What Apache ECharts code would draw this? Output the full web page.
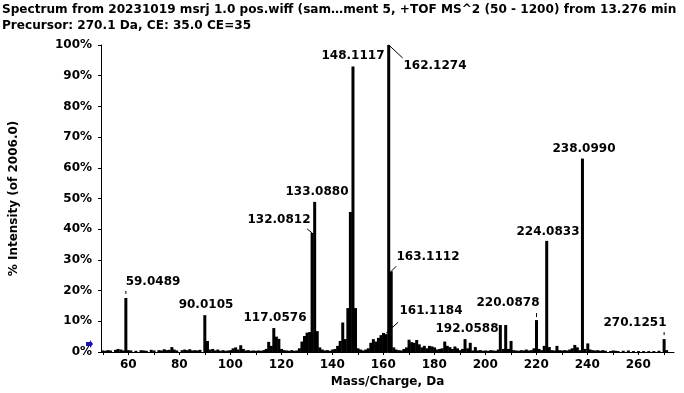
<!DOCTYPE html>
<html>
<head>
<meta charset="utf-8">
<script src="https://cdn.jsdelivr.net/npm/echarts@6/dist/echarts.min.js"></script>
<style>html,body{margin:0;padding:0;background:#fff}#c{width:684px;height:393px}</style>
</head>
<body>
<div id="c"></div>
<script>
// ---- data (m/z in Da, intensity in % of 2006.0) ----
var titleLine1 = 'Spectrum from 20231019 msrj 1.0 pos.wiff (sam\u2026ment 5, +TOF MS^2 (50 - 1200) from 13.276 min';
var titleLine2 = 'Precursor: 270.1 Da, CE: 35.0 CE=35';
var xTickValues = [50, 60, 70, 80, 90, 100, 110, 120, 130, 140, 150, 160, 170, 180, 190, 200, 210, 220, 230, 240, 250, 260, 270];
var xLabelValues = [60, 80, 100, 120, 140, 160, 180, 200, 220, 240, 260];
var yTickValues = [0, 10, 20, 30, 40, 50, 60, 70, 80, 90, 100];

var mz = [
  50.0, 51.1, 52.0, 53.0, 55.0, 56.0, 57.1, 58.1, 59.0489, 60.0, 61.0, 63.0, 65.0, 66.0, 67.1, 69.0, 70.1, 72.0, 73.0, 74.1,
  75.0, 76.1, 77.1, 78.0, 79.0, 81.1, 82.1, 83.1, 84.1, 85.1, 86.1, 87.1, 88.1, 90.0105, 91.05, 92.0, 93.1, 94.1, 95.1, 96.0,
  97.1, 98.0, 99.1, 100.1, 101.1, 102.1, 103.1, 104.1, 105.1, 106.1, 107.1, 108.1, 109.1, 110.1, 111.1, 112.1, 113.1, 114.1, 115.05, 116.1,
  117.0576, 118.06, 119.05, 120.1, 121.1, 122.1, 123.1, 124.1, 125.1, 126.1, 127.1, 128.1, 129.1, 130.1, 131.1, 132.0812, 133.0880, 134.1, 135.1, 136.1,
  137.1, 138.1, 139.1, 140.1, 141.1, 142.1, 143.1, 144.1, 145.1, 146.1, 147.1, 148.1117, 149.1, 150.1, 151.1, 152.1, 153.1, 154.1, 155.1, 156.1,
  157.1, 158.1, 159.1, 160.1, 161.1184, 162.1274, 163.1112, 164.1, 165.1, 166.1, 167.1, 168.1, 169.1, 170.1, 171.1, 172.1, 173.1, 174.1, 175.1, 176.1,
  177.1, 178.1, 179.1, 180.1, 181.1, 182.1, 183.1, 184.1, 185.1, 186.1, 187.1, 188.1, 189.1, 190.1, 191.1, 192.0588, 193.1, 194.1, 195.1, 196.1,
  197.1, 198.1, 199.1, 200.1, 201.1, 202.1, 203.1, 204.1, 205.1, 205.9, 207.1, 208.0, 209.1, 210.1, 211.1, 212.1, 213.1, 214.1, 215.1, 216.1,
  217.1, 218.1, 219.1, 220.0878, 221.1, 222.1, 223.1, 224.0833, 225.1, 226.1, 227.1, 228.1, 229.1, 230.1, 231.1, 232.1, 233.1, 234.1, 235.1, 236.1,
  237.1, 238.0990, 239.1, 240.2, 241.1, 242.1, 243.1, 244.1, 245.1, 246.1, 247.1, 249.1, 250.1, 251.1, 252.1, 254.1, 256.1, 258.1, 260.1, 262.1,
  264.1, 266.1, 268.1, 270.1251, 271.1
];
var intensity = [
  0.5, 0.4, 0.6, 0.5, 0.7, 1.0, 0.8, 0.5, 17.6, 0.6, 0.5, 0.4, 0.6, 0.5, 0.4, 0.7, 0.5, 0.6, 0.5, 0.9,
  0.6, 0.7, 1.6, 0.8, 0.5, 0.6, 0.8, 0.6, 0.9, 0.5, 0.6, 0.5, 0.7, 12.0, 3.6, 0.8, 1.0, 0.5, 0.8, 0.4,
  0.6, 0.4, 0.5, 0.6, 1.2, 1.5, 0.8, 2.2, 1.0, 0.5, 0.6, 0.4, 0.5, 0.4, 0.5, 0.4, 0.6, 1.0, 3.3, 2.0,
  7.8, 5.0, 4.3, 1.0, 0.6, 0.5, 0.4, 0.6, 0.4, 0.5, 1.2, 3.4, 5.2, 6.3, 6.5, 38.8, 48.9, 6.8, 1.5, 0.8,
  0.5, 0.6, 0.4, 0.8, 1.0, 2.0, 3.6, 9.6, 4.2, 14.3, 45.6, 93.0, 14.3, 1.2, 0.8, 0.5, 0.8, 1.2, 3.0, 4.2,
  3.4, 4.6, 5.5, 6.2, 5.8, 100.0, 26.3, 1.5, 0.8, 0.6, 0.5, 1.0, 1.5, 4.0, 3.2, 3.0, 3.9, 2.5, 1.5, 2.0,
  1.2, 2.0, 1.8, 1.5, 0.8, 1.0, 1.2, 3.4, 2.0, 1.6, 1.0, 1.8, 1.2, 0.6, 1.0, 4.2, 1.2, 3.0, 0.5, 1.6,
  0.5, 0.6, 0.4, 0.5, 0.4, 0.6, 0.5, 0.4, 0.8, 8.8, 1.0, 8.8, 1.0, 3.6, 0.6, 0.5, 0.4, 0.6, 0.5, 0.8,
  0.5, 0.6, 1.2, 10.4, 1.0, 0.6, 2.0, 36.2, 1.6, 0.6, 0.5, 2.0, 0.6, 0.5, 0.6, 0.5, 0.8, 1.2, 2.3, 1.5,
  0.6, 63.0, 1.0, 2.8, 0.8, 0.6, 0.5, 0.6, 0.4, 0.6, 0.4, 0.3, 0.5, 0.4, 0.3, 0.4, 0.5, 0.3, 0.3, 0.3,
  0.3, 0.3, 0.4, 4.2, 0.6
];
var labelledMz = [59.0489, 90.0105, 117.0576, 132.0812, 133.0880, 148.1117, 162.1274, 163.1112, 161.1184, 192.0588, 220.0878, 224.0833, 238.0990, 270.1251];

// ---- label layout (pixel offsets from peak top; styles only) ----
var labelLayout = {
  '59.0489':  {dx: 27,  dy: -16, lead: [0, -7, 0, -4]},
  '90.0105':  {dx: 1,   dy: -10},
  '117.0576': {dx: 1,   dy: -10},
  '132.0812': {dx: -33, dy: -13, lead: [-5, -4, 0, 0]},
  '133.0880': {dx: 2,   dy: -10},
  '148.1117': {dx: 0,   dy: -10},
  '162.1274': {dx: 46,  dy: 21,  lead: [0, 0, 14, 13]},
  '163.1112': {dx: 37,  dy: -14, lead: [0, 0, 5, -5]},
  '161.1184': {dx: 45,  dy: -23, lead: [0, -1, 12, -12]},
  '192.0588': {dx: 2,   dy: -10},
  '220.0878': {dx: -29, dy: -17, lead: [0, -7, 0, -3]},
  '224.0833': {dx: 1,   dy: -9},
  '238.0990': {dx: 2,   dy: -10},
  '270.1251': {dx: -29, dy: -16, lead: [0, -7, 0, -4]}
};

var FONT = '"DejaVu Sans", Verdana, sans-serif';

var barData = mz.map(function (m, i) { return [m, intensity[i]]; });
var annoData = labelledMz.map(function (m) {
  return [m, intensity[mz.indexOf(m)], m.toFixed(4)];
});

var chart = echarts.init(document.getElementById('c'), null, {renderer: 'canvas'});
chart.setOption({
  animation: false,
  backgroundColor: '#fff',
  title: {
    text: titleLine1 + '\n' + titleLine2,
    left: 2, top: 2, padding: 0,
    textStyle: {fontFamily: FONT, fontSize: 12.1, fontWeight: 'bold', color: '#000', lineHeight: 16}
  },
  grid: {left: 93.5, right: 10, top: 45, bottom: 41, containLabel: false},
  xAxis: {
    type: 'value', min: 49.3, max: 274,
    name: 'Mass/Charge, Da', nameLocation: 'middle', nameGap: 24,
    nameTextStyle: {fontFamily: FONT, fontSize: 12, fontWeight: 'bold', color: '#000'},
    axisLine: {show: true, lineStyle: {color: '#000', width: 1}},
    axisTick: {show: true, length: 3, lineStyle: {color: '#000'}, customValues: xTickValues},
    axisLabel: {fontFamily: FONT, fontSize: 12, fontWeight: 'bold', color: '#000', margin: 7, customValues: xLabelValues},
    splitLine: {show: false}
  },
  yAxis: {
    type: 'value', min: 0, max: 100, interval: 10,
    name: '% Intensity (of 2006.0)', nameLocation: 'middle', nameGap: 81,
    nameTextStyle: {fontFamily: FONT, fontSize: 12, fontWeight: 'bold', color: '#000'},
    axisLine: {show: true, lineStyle: {color: '#000', width: 1}},
    axisTick: {show: true, length: 3, lineStyle: {color: '#000'}},
    axisLabel: {fontFamily: FONT, fontSize: 12, fontWeight: 'bold', color: '#000', margin: 9, formatter: '{value}%'},
    splitLine: {show: false}
  },
  series: [
    {
      type: 'bar', data: barData, barWidth: 3,
      itemStyle: {color: '#000'}, silent: true
    },
    {
      type: 'custom', data: annoData, clip: false, silent: true, z: 5,
      renderItem: function (params, api) {
        var p = api.coord([api.value(0), api.value(1)]);
        var txt = annoData[params.dataIndex][2];
        var lay = labelLayout[txt];
        var children = [{
          type: 'text',
          x: Math.round(p[0] + lay.dx), y: Math.round(p[1] + lay.dy),
          style: {text: txt, align: 'center', verticalAlign: 'middle', fill: '#000',
                  fontFamily: FONT, fontSize: 12, fontWeight: 'bold'}
        }];
        if (lay.lead) {
          children.push({
            type: 'line',
            shape: {x1: p[0] + lay.lead[0], y1: p[1] + lay.lead[1], x2: p[0] + lay.lead[2], y2: p[1] + lay.lead[3]},
            style: {stroke: '#000', lineWidth: 1}
          });
        }
        return {type: 'group', children: children};
      }
    }
  ],
  graphic: [{
    type: 'polygon', left: 86, top: 340,
    shape: {points: [[0, 1], [4, 1], [4, -1], [7, 3], [4, 7], [4, 5], [0, 5]]},
    style: {fill: '#1010c0'}
  }]
});
</script>
</body>
</html>
